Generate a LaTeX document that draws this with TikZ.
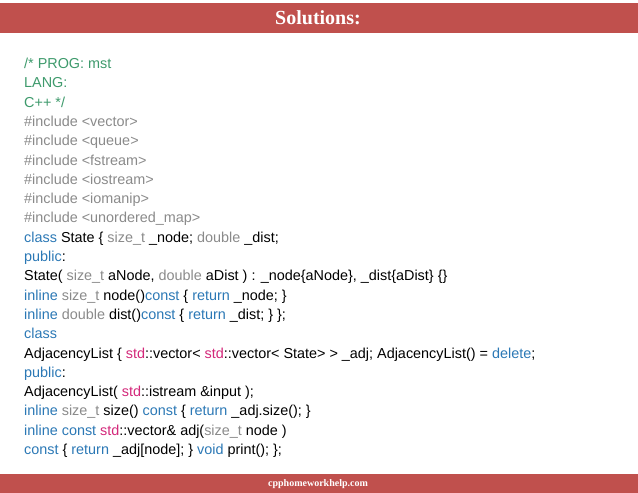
\documentclass[tikz,border=0pt]{standalone}
\usepackage{fontspec}
\setmainfont{Liberation Sans}
\newfontfamily\serifb{Liberation Serif}
\definecolor{bar}{HTML}{C0504D}
\definecolor{cg}{HTML}{3E9A6C}
\definecolor{cgr}{HTML}{8A8A8A}
\definecolor{cb}{HTML}{2B78B5}
\definecolor{cm}{HTML}{D3287A}
\newcommand{\G}[1]{\textcolor{cg}{#1}}
\newcommand{\R}[1]{\textcolor{cgr}{#1}}
\newcommand{\B}[1]{\textcolor{cb}{#1}}
\newcommand{\M}[1]{\textcolor{cm}{#1}}
\begin{document}
\begin{tikzpicture}[x=1pt,y=-1pt,
  ln/.style={anchor=base west,inner sep=0pt,font=\fontsize{14.4}{16}\selectfont}]
\useasboundingbox (0,0) rectangle (638,493);
\fill[bar] (0,3) rectangle (638,33);
\fill[bar] (0,474) rectangle (638,493);
\node[text=white,font=\serifb\bfseries\fontsize{20}{22}\selectfont] (title) at (318,18) {Solutions:};
\node[text=white,font=\serifb\bfseries\fontsize{10}{12}\selectfont] (foot) at (318,484) {cpphomeworkhelp.com};
\node[ln] (l1) at (24,68.5) {\G{/* PROG: mst}};
\node[ln] (l2) at (24,87.8) {\G{LANG:}};
\node[ln] (l3) at (24,107.1) {\G{C++ */}};
\node[ln] (l4) at (24,126.4) {\R{\#include <vector>}};
\node[ln] (l5) at (24,145.7) {\R{\#include <queue>}};
\node[ln] (l6) at (24,165) {\R{\#include <fstream>}};
\node[ln] (l7) at (24,184.3) {\R{\#include <iostream>}};
\node[ln] (l8) at (24,203.6) {\R{\#include <iomanip>}};
\node[ln] (l9) at (24,222.9) {\R{\#include <unordered\_map>}};
\node[ln] (l10) at (24,242.2) {\B{class} State \{ \R{size\_t} \_node; \R{double} \_dist;};
\node[ln] (l11) at (24,261.5) {\B{public}:};
\node[ln] (l12) at (24,280.8) {State( \R{size\_t} aNode, \R{double} aDist ) : \_node\{aNode\}, \_dist\{aDist\} \{\}};
\node[ln] (l13) at (24,300.1) {\B{inline} \R{size\_t} node()\B{const} \{ \B{return} \_node; \}};
\node[ln] (l14) at (24,319.4) {\B{inline} \R{double} dist()\B{const} \{ \B{return} \_dist; \} \};};
\node[ln] (l15) at (24,338.7) {\B{class}};
\node[ln] (l16) at (24,358) {AdjacencyList \{ \M{std}::vector< \M{std}::vector< State> > \_adj; AdjacencyList() = \B{delete};};
\node[ln] (l17) at (24,377.3) {\B{public}:};
\node[ln] (l18) at (24,396.6) {AdjacencyList( \M{std}::istream \&input );};
\node[ln] (l19) at (24,415.9) {\B{inline} \R{size\_t} size() \B{const} \{ \B{return} \_adj.size(); \}};
\node[ln] (l20) at (24,435.2) {\B{inline} \B{const} \M{std}::vector\& adj(\R{size\_t} node )};
\node[ln] (l21) at (24,454.5) {\B{const} \{ \B{return} \_adj[node]; \} \B{void} print(); \};};
\end{tikzpicture}
\end{document}
